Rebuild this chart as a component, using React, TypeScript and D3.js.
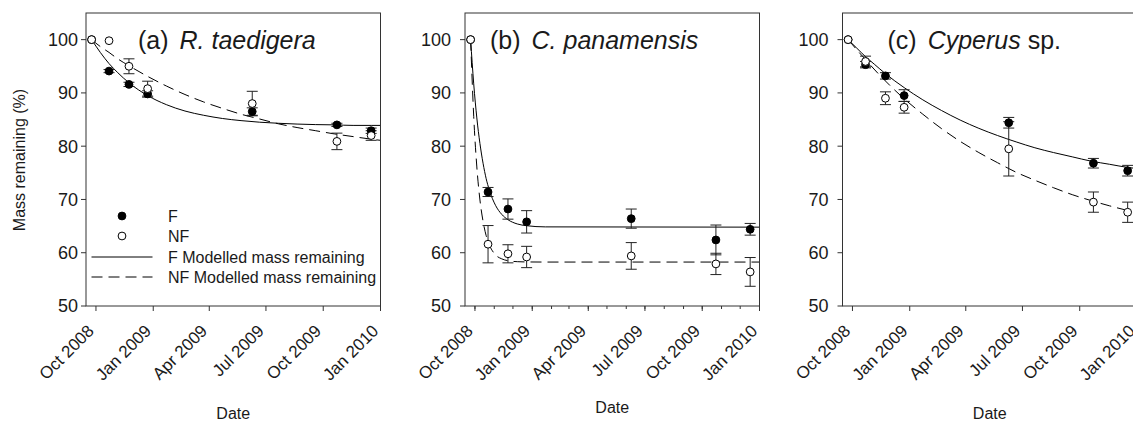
import React from 'react';
import * as d3 from 'd3';

const W = 1133;
const H = 422;
const TOP = 13;
const BOTTOM = 306;
const PANEL_W = 294.5;
const FONT = "'Liberation Sans', Arial, Helvetica, sans-serif";
const INK = '#1a1a1a';

// sampling dates shared by all three litter species
const sampleDates = ['2008-09-24', '2008-10-22', '2008-11-23', '2008-12-23', '2009-06-09', '2009-10-23', '2009-12-17'];

const yTicks = [50, 60, 70, 80, 90, 100];
const xTickDates = ['2008-10-01', '2009-01-01', '2009-04-01', '2009-07-01', '2009-10-01', '2010-01-01'];
const xTickLabels = ['Oct 2008', 'Jan 2009', 'Apr 2009', 'Jul 2009', 'Oct 2009', 'Jan 2010'];

// (a) R. taedigera
const rtF = [100, 94.1, 91.6, 89.8, 86.5, 84.0, 82.9];
const rtFErr = [0, 0.3, 0.4, 0.6, 0.7, 0.3, 0.5];
const rtNF = [100, 99.8, 95.0, 90.8, 88.0, 80.9, 82.0];
const rtNFErr = [0, 0, 1.4, 1.4, 2.3, 1.55, 0.9];

// modelled curves
const fitDates = ['2008-09-24', '2008-10-08', '2008-10-22', '2008-11-05', '2008-11-23', '2008-12-23', '2009-01-22',
  '2009-02-21', '2009-03-23', '2009-04-22', '2009-05-22', '2009-06-21', '2009-07-21', '2009-08-20', '2009-09-19',
  '2009-10-19', '2009-11-18', '2009-12-18', '2010-01-01'];
const rtFFit = [100, 97.6, 95.5, 93.8, 91.9, 89.5, 87.8, 86.6, 85.8, 85.2, 84.8, 84.5, 84.3, 84.15, 84.05, 84.0, 83.9, 83.9, 83.9];
const rtNFFit = [100, 98.7, 97.6, 96.4, 95.1, 93.1, 91.3, 89.7, 88.3, 87.1, 86.0, 85.1, 84.2, 83.5, 82.9, 82.3, 81.8, 81.3, 81.1];

// (b) C. panamensis
const cpF = [100, 71.4, 68.2, 65.8, 66.4, 62.4, 64.4];
const cpFErr = [0, 0.85, 1.9, 2.1, 1.8, 2.8, 1.1];
const cpNF = [100, 61.6, 59.8, 59.2, 59.4, 57.9, 56.4];
const cpNFErr = [0, 3.5, 1.7, 2.0, 2.5, 2.0, 2.7];
const cpFitDates = ['2008-09-24', '2008-09-29', '2008-10-04', '2008-10-09', '2008-10-14', '2008-10-19', '2008-10-24',
  '2008-11-03', '2008-11-13', '2008-11-23', '2008-12-08', '2008-12-23', '2009-01-22', '2010-01-01'];
const cpFFit = [100, 91.7, 85.3, 80.5, 76.8, 73.9, 71.8, 68.9, 67.2, 66.2, 65.4, 65.07, 64.85, 64.8];
const cpNFFit = [100, 85.6, 76.1, 69.9, 65.9, 63.2, 61.5, 59.6, 58.85, 58.5, 58.32, 58.27, 58.25, 58.25];

// (c) Cyperus sp.
const cyF = [100, 95.3, 93.2, 89.5, 84.4, 76.8, 75.4];
const cyFErr = [0, 0.6, 0.6, 1.1, 1.0, 0.9, 1.0];
const cyNF = [100, 95.9, 89.0, 87.3, 79.5, 69.5, 67.6];
const cyNFErr = [0, 1.0, 1.2, 1.1, 5.1, 1.9, 1.9];
const cyFFit = [100, 98.4, 96.8, 95.4, 93.6, 91.0, 88.7, 86.7, 84.9, 83.35, 82.0, 80.8, 79.7, 78.8, 78.0, 77.2, 76.6, 76.0, 75.8];
const cyNFFitDates = ['2008-09-24', '2008-11-19', '2008-12-23', '2009-01-22', '2009-02-21', '2009-03-23', '2009-04-22',
  '2009-05-22', '2009-06-21', '2009-07-21', '2009-08-20', '2009-09-19', '2009-10-19', '2009-11-18', '2009-12-18', '2010-01-01'];
const cyNFFit = [100, 92.7, 88.9, 86.0, 83.3, 80.9, 78.8, 76.9, 75.1, 73.6, 72.2, 70.9, 69.8, 68.8, 67.9, 67.5];

const parse = d3.timeParse('%Y-%m-%d');
const DASH = '11,6';

function ErrorBars({ x, y, vals, errs }) {
  return (
    <g stroke="#222" strokeWidth={1}>
      {vals.map((v, i) => {
        const e = errs[i];
        if (!e) return null;
        const cx = x(parse(sampleDates[i]));
        const y0 = y(v - e);
        const y1 = y(v + e);
        return (
          <g key={i}>
            <line x1={cx} x2={cx} y1={y0} y2={y1} />
            <line x1={cx - 5.5} x2={cx + 5.5} y1={y0} y2={y0} />
            <line x1={cx - 5.5} x2={cx + 5.5} y1={y1} y2={y1} />
          </g>
        );
      })}
    </g>
  );
}

function Panel({ left, f, fErr, nf, nfErr, fFitDates, fFit, nfFitDates, nfFit, tag, italic, rest, titleX, labelGap, minor, dateY, legend, yLabel }) {
  const x = d3.scaleTime().domain([parse('2008-09-15'), parse('2010-01-01')]).range([left, left + PANEL_W]);
  const y = d3.scaleLinear().domain([50, 105]).range([BOTTOM, TOP]);
  const mk = (dates) => d3.line().x((_, i) => x(parse(dates[i]))).y((v) => y(v)).curve(d3.curveMonotoneX);
  const minorTicks = minor ? d3.timeMonth.range(parse('2008-10-01'), parse('2010-01-02')) : [];

  return (
    <g fontFamily={FONT} fill={INK}>
      {/* fitted curves */}
      <path d={mk(fFitDates)(fFit)} fill="none" stroke="#000" strokeWidth={1} />
      <path d={mk(nfFitDates)(nfFit)} fill="none" stroke="#000" strokeWidth={1} strokeDasharray={DASH} />

      <ErrorBars x={x} y={y} vals={f} errs={fErr} />
      <ErrorBars x={x} y={y} vals={nf} errs={nfErr} />
      {f.map((v, i) => (
        <circle key={'f' + i} cx={x(parse(sampleDates[i]))} cy={y(v)} r={3.9} fill="#000" stroke="#000" />
      ))}
      {nf.map((v, i) => (
        <circle key={'n' + i} cx={x(parse(sampleDates[i]))} cy={y(v)} r={3.9} fill="#fff" stroke="#000" strokeWidth={1} />
      ))}

      {/* frame */}
      <rect x={left} y={TOP} width={PANEL_W} height={BOTTOM - TOP} fill="none" stroke="#333" strokeWidth={1} />

      {/* y axis */}
      {yTicks.map((t) => (
        <g key={t}>
          <line x1={left - 5} x2={left} y1={y(t)} y2={y(t)} stroke="#333" />
          <text x={left - labelGap} y={y(t)} dy="0.36em" textAnchor="end" fontSize={18}>{t}</text>
        </g>
      ))}

      {/* x axis */}
      {minorTicks.map((d, i) => (
        <line key={'m' + i} x1={x(d)} x2={x(d)} y1={BOTTOM} y2={BOTTOM + 3} stroke="#333" />
      ))}
      {xTickDates.map((d, i) => {
        const tx = x(parse(d));
        return (
          <g key={d}>
            <line x1={tx} x2={tx} y1={BOTTOM} y2={BOTTOM + 5} stroke="#333" />
            <text transform={`translate(${tx - 1},${332}) rotate(-45)`} textAnchor="end" fontSize={17}>{xTickLabels[i]}</text>
          </g>
        );
      })}
      <text x={left + PANEL_W / 2} y={dateY} textAnchor="middle" fontSize={16}>Date</text>

      {/* title */}
      <text x={titleX} y={49} fontSize={25}>
        {tag}
        <tspan dx={11} fontStyle="italic">{italic}</tspan>
        {rest ? <tspan>{rest}</tspan> : null}
      </text>

      {yLabel ? (
        <text transform="translate(25,160) rotate(-90)" textAnchor="middle" fontSize={16}>Mass remaining (%)</text>
      ) : null}

      {legend ? (
        <g fontSize={16}>
          <circle cx={122} cy={216} r={3.9} fill="#000" stroke="#000" />
          <circle cx={122} cy={236} r={3.9} fill="#fff" stroke="#000" />
          <line x1={91.5} x2={152.5} y1={257} y2={257} stroke="#000" />
          <line x1={91.5} x2={152.5} y1={277} y2={277} stroke="#000" strokeDasharray={DASH} />
          <text x={168} y={222}>F</text>
          <text x={168} y={242}>NF</text>
          <text x={168} y={263}>F Modelled mass remaining</text>
          <text x={168} y={283}>NF Modelled mass remaining</text>
        </g>
      ) : null}
    </g>
  );
}

export default function App() {
  return (
    <svg width={W} height={H} viewBox={`0 0 ${W} ${H}`} style={{ position: 'absolute', left: 0, top: 0, background: '#fff' }}>
      <rect width={W} height={H} fill="#fff" />
      <Panel left={86} f={rtF} fErr={rtFErr} nf={rtNF} nfErr={rtNFErr}
        fFitDates={fitDates} fFit={rtFFit} nfFitDates={fitDates} nfFit={rtNFFit}
        tag="(a)" italic="R. taedigera" rest="" titleX={138} labelGap={8} minor={false} dateY={419} legend yLabel />
      <Panel left={465} f={cpF} fErr={cpFErr} nf={cpNF} nfErr={cpNFErr}
        fFitDates={cpFitDates} fFit={cpFFit} nfFitDates={cpFitDates} nfFit={cpNFFit}
        tag="(b)" italic="C. panamensis" rest="" titleX={490} labelGap={14} minor dateY={413} legend={false} yLabel={false} />
      <Panel left={842.5} f={cyF} fErr={cyFErr} nf={cyNF} nfErr={cyNFErr}
        fFitDates={fitDates} fFit={cyFFit} nfFitDates={cyNFFitDates} nfFit={cyNFFit}
        tag="(c)" italic="Cyperus" rest=" sp." titleX={887.5} labelGap={14} minor={false} dateY={419} legend={false} yLabel={false} />
    </svg>
  );
}
